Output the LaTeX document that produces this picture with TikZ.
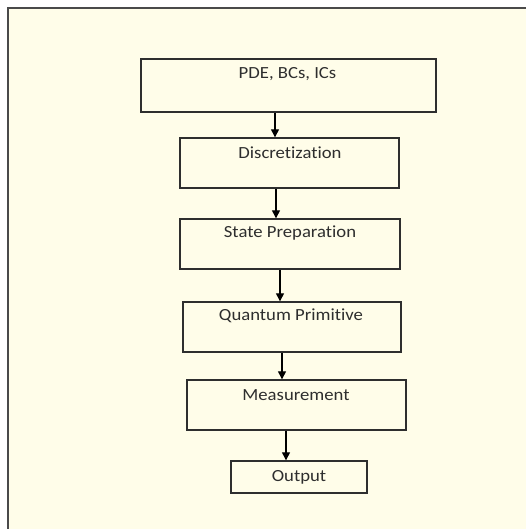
\documentclass[tikz,border=0pt]{standalone}
\usepackage{fontspec}
\setmainfont{Carlito}[FakeStretch=1.1,Ligatures=NoCommon]
\usetikzlibrary{arrows.meta,calc}
\definecolor{cream}{HTML}{FFFDE9}
\definecolor{frame}{HTML}{4A4A4A}
\definecolor{ink}{HTML}{2E2E2E}
\tikzset{
  box/.style={draw=ink, line width=1.4pt, fill=cream, inner sep=0pt},
  lbl/.style={text=ink, font=\fontsize{17}{20}\selectfont, inner sep=0pt, anchor=center},
  arr/.style={draw=black, line width=1.3pt, -{Triangle[length=8pt,width=8pt]}}
}
\begin{document}
\begin{tikzpicture}[x=1pt,y=-1pt]
\useasboundingbox (0,0) rectangle (526,529);
\fill[white] (0,0) rectangle (526,529);
\fill[cream] (8,8) rectangle (530,533);
\draw[frame, line width=1.4pt] (8,533) -- (8,8) -- (530,8);
% boxes
\node[box, minimum width=295pt, minimum height=53pt] (b1) at (288.5,85.5) {};
\node[box, minimum width=219pt, minimum height=50pt] (b2) at (289.5,163) {};
\node[box, minimum width=220pt, minimum height=50pt] (b3) at (290,244) {};
\node[box, minimum width=218pt, minimum height=50pt] (b4) at (292,327) {};
\node[box, minimum width=219pt, minimum height=50pt] (b5) at (296.5,405) {};
\node[box, minimum width=136pt, minimum height=32pt] (b6) at (299,477) {};
% labels
\node[lbl] (t1) at ($(b1.north)+(-1,16)$) {PDE, BCs, ICs};
\node[lbl] (t2) at ($(b2.north)+(0.5,15)$) {Discretization};
\node[lbl] (t3) at ($(b3.north)+(0,15)$) {State Preparation};
\node[lbl] (t4) at ($(b4.north)+(-1,14)$) {Quantum Primitive};
\node[lbl] (t5) at ($(b5.north)+(-0.5,16)$) {Measurement};
\node[lbl] (t6) at (b6.center) {Output};
% arrow columns
\coordinate (c1) at (275,0);
\coordinate (c2) at (276,0);
\coordinate (c3) at (280,0);
\coordinate (c4) at (282,0);
\coordinate (c5) at (286,0);
\draw[arr] (b1.south -| c1) -- (b2.north -| c1);
\draw[arr] (b2.south -| c2) -- (b3.north -| c2);
\draw[arr] (b3.south -| c3) -- (b4.north -| c3);
\draw[arr] (b4.south -| c4) -- (b5.north -| c4);
\draw[arr] (b5.south -| c5) -- (b6.north -| c5);
\end{tikzpicture}
\end{document}
